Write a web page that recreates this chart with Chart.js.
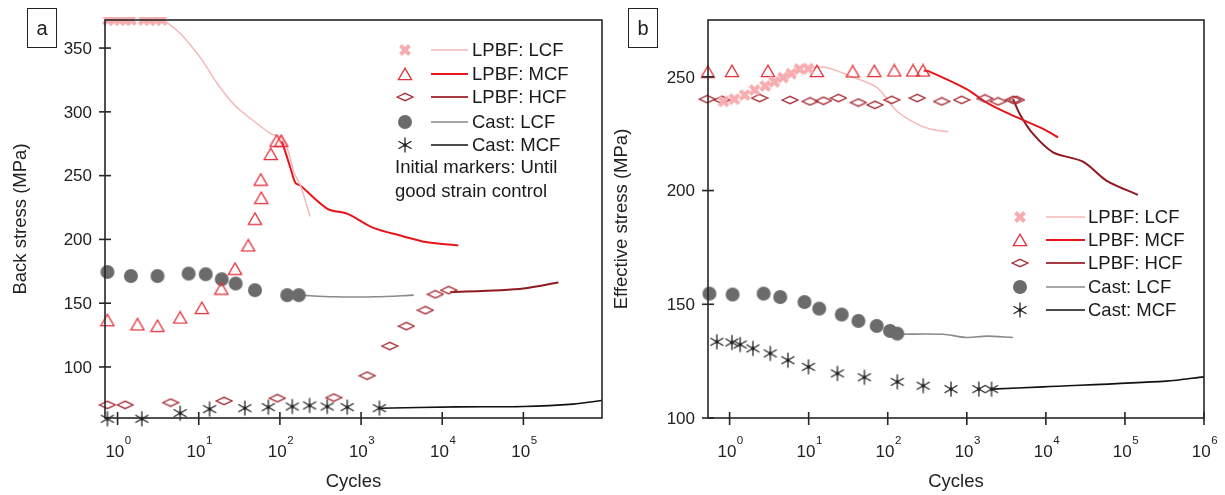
<!DOCTYPE html>
<html>
<head>
<meta charset="utf-8">
<script src="https://cdn.jsdelivr.net/npm/chart.js@4.4.1/dist/chart.umd.min.js"></script>
<style>
  html, body { margin: 0; padding: 0; background: #ffffff; }
  #wrap { position: relative; width: 1225px; height: 495px; overflow: hidden; }
  canvas { position: absolute; top: 0; }
  #c1 { left: 0; }
  #c2 { left: 612px; }
</style>
</head>
<body>
<div id="wrap">
  <canvas id="c1" width="612" height="495"></canvas>
  <canvas id="c2" width="613" height="495"></canvas>
</div>
<script>
// ---------------- DATA ----------------
// Panel a: back stress (MPa) vs cycles
const backLcfMarkN = [0.76, 0.9, 1.07, 1.26, 1.46, 2.1, 2.5, 2.96, 3.5];
const backLcfMarkS = [372, 372, 372, 372, 372, 372, 372, 372, 372];
const backLcfLineN = [3.9, 6, 10.6, 17, 27, 47, 77, 102, 125, 150, 180, 235];
const backLcfLineS = [371, 361, 342, 322, 306, 293, 283, 280, 270, 252, 242, 218];

const backMcfMarkN = [0.75, 1.76, 3.1, 5.9, 10.9, 19.0, 28, 40.8, 49.3, 59, 58, 77, 91, 104];
const backMcfMarkS = [136.7, 133.4, 132.3, 138.8, 146.3, 161.5, 177, 195.3, 216.2, 232.6, 246.9, 267, 277.3, 277.3];
const backMcfLineN = [106, 135, 155, 180, 386, 681, 1422, 3055, 6560, 15800];
const backMcfLineS = [277, 256, 244.5, 242, 224, 220, 209, 203, 197.7, 195.3];

const backHcfMarkN = [0.75, 1.24, 4.5, 20.5, 93, 461, 1189, 2256, 3616, 6190, 8225, 12000];
const backHcfMarkS = [70.3, 70.3, 72.1, 73.4, 75.5, 76, 93.2, 116.4, 132, 144.5, 157, 160.2];
const backHcfLineN = [12600, 51800, 100000, 270000];
const backHcfLineS = [158.8, 160.2, 161.5, 166.2];

const backCastLcfMarkN = [0.75, 1.46, 3.1, 7.5, 12.2, 19.2, 28.5, 49.3, 123, 171];
const backCastLcfMarkS = [174.5, 171.3, 171.3, 173.2, 172.7, 168.8, 165.4, 160.2, 156.3, 156.3];
const backCastLcfLineN = [175, 461, 1500, 4450];
const backCastLcfLineS = [156.3, 155, 155, 156.3];

const backCastMcfMarkN = [0.75, 1.99, 5.9, 13.6, 37, 72, 142, 232, 383, 675, 1683];
const backCastMcfMarkS = [59.4, 59.4, 63.8, 67, 67.7, 68.5, 69, 69.8, 69, 68.5, 67.7];
const backCastMcfLineN = [1683, 15350, 100000, 410000, 920000];
const backCastMcfLineS = [67.7, 68.7, 69, 70.9, 73.7];

// Panel b: effective stress (MPa) vs cycles
const effLcfMarkN = [0.84, 1.15, 1.55, 2.07, 2.82, 3.67, 4.72, 6.0, 7.66, 9.9];
const effLcfMarkS = [239.2, 240.2, 242, 244.2, 246, 247.8, 249.7, 251.4, 253.4, 253.6];
const effLcfLineN = [9.9, 11.5, 17, 33, 73, 130, 232, 342, 582];
const effLcfLineS = [253.6, 254.1, 254.1, 250.4, 245.3, 235, 229.3, 227.1, 225.9];

const effMcfMarkN = [0.53, 1.07, 3.05, 12.7, 36, 67.7, 121, 209, 279];
const effMcfMarkS = [252.3, 252.6, 252.6, 252.6, 252.4, 252.6, 252.8, 252.8, 252.8];
const effMcfLineN = [285, 326, 994, 1780, 3500, 9230, 14250];
const effMcfLineS = [252.8, 252.5, 244.6, 238.7, 233.6, 227.1, 223.4];

const effHcfMarkN = [0.52, 0.80, 2.39, 5.8, 10.4, 15.4, 23.8, 42.5, 69, 112, 236, 481, 860, 1692, 2490, 3850, 4250];
const effHcfMarkS = [240.2, 239.9, 240.7, 239.8, 239.2, 239.5, 240.7, 238.7, 237.7, 239.9, 240.7, 239.2, 239.9, 240.5, 239.2, 239.9, 239.9];
const effHcfLineN = [3850, 4690, 6890, 12330, 29500, 58200, 146000];
const effHcfLineS = [240.2, 233.6, 224.9, 216.8, 212.7, 204.4, 198.1];

const effCastLcfMarkN = [0.555, 1.09, 2.69, 4.37, 8.85, 13.6, 26.2, 42.6, 72.6, 107, 132];
const effCastLcfMarkS = [154.7, 154.3, 154.7, 153.2, 151, 148.1, 145.5, 142.7, 140.5, 138.3, 137.1];
const effCastLcfLineN = [132, 504, 994, 1780, 3850];
const effCastLcfLineS = [136.8, 136.8, 135.4, 136, 135.4];

const effCastMcfMarkN = [0.69, 1.07, 1.36, 1.97, 3.27, 5.46, 9.94, 23.1, 50.7, 132, 281, 630, 1420, 2056];
const effCastMcfMarkS = [133.5, 133.2, 132.3, 130.6, 128.4, 125.4, 122.5, 119.6, 117.9, 115.9, 114.2, 112.7, 112.7, 112.7];
const effCastMcfLineN = [2056, 9230, 333000, 1000000];
const effCastMcfLineS = [112.7, 113.7, 116.2, 118.1];

// Tick labels / texts
const backYTicks = [100, 150, 200, 250, 300, 350];
const effYTicks = [100, 150, 200, 250];
const backXExponents = [0, 1, 2, 3, 4, 5];
const effXExponents = [0, 1, 2, 3, 4, 5, 6];
const seriesLabels = ['LPBF: LCF', 'LPBF: MCF', 'LPBF: HCF', 'Cast: LCF', 'Cast: MCF'];
const noteLines = ['Initial markers: Until', 'good strain control'];

// ---------------- STYLES ----------------
const FONT = '"Liberation Sans", Arial, sans-serif';
const COL = {
  lcfMark: '#f7acb0', lcfLine: '#f4b8b8',
  mcfMark: '#e5323c', mcfLine: '#e8141c',
  hcfMark: '#a8323a', hcfLine: '#8e1a20', hcfLegLine: '#a83a44',
  castLcfMark: '#6b6b6b', castLcfLine: '#8a8a8a',
  castMcfMark: '#222222', castMcfLine: '#111111'
};

function mk(w, h, draw) {
  const c = document.createElement('canvas');
  c.width = w; c.height = h;
  const g = c.getContext('2d');
  draw(g, w, h);
  return c;
}
const MARK = {
  xsq: mk(14, 14, (g) => {
    g.strokeStyle = COL.lcfMark; g.lineWidth = 4; g.lineCap = 'butt';
    g.beginPath(); g.moveTo(2.5, 2.5); g.lineTo(11.5, 11.5); g.moveTo(11.5, 2.5); g.lineTo(2.5, 11.5); g.stroke();
    g.fillStyle = COL.lcfMark; g.fillRect(4.5, 4.5, 5, 5);
  }),
  tri: mk(16, 14, (g) => {
    g.strokeStyle = COL.mcfMark; g.lineWidth = 1.3;
    g.beginPath(); g.moveTo(8, 1.2); g.lineTo(14.6, 12.6); g.lineTo(1.4, 12.6); g.closePath(); g.stroke();
  }),
  dia: mk(18, 10, (g) => {
    g.strokeStyle = COL.hcfMark; g.lineWidth = 1.3;
    g.beginPath(); g.moveTo(1.2, 5); g.lineTo(9, 1.3); g.lineTo(16.8, 5); g.lineTo(9, 8.7); g.closePath(); g.stroke();
  }),
  dot: mk(16, 16, (g) => {
    g.fillStyle = COL.castLcfMark;
    g.beginPath(); g.arc(8, 8, 7, 0, Math.PI * 2); g.fill();
  }),
  ast: mk(18, 18, (g) => {
    g.strokeStyle = COL.castMcfMark; g.lineWidth = 1.3;
    g.beginPath();
    for (const deg of [90, 30, -30]) {
      const r = deg * Math.PI / 180, dx = Math.cos(r) * 7.5, dy = Math.sin(r) * 7.5;
      g.moveTo(9 - dx, 9 - dy); g.lineTo(9 + dx, 9 + dy);
    }
    g.stroke();
    g.fillStyle = COL.castMcfMark; g.beginPath(); g.arc(9, 9, 1.8, 0, Math.PI * 2); g.fill();
  })
};

const pts = (N, S) => N.map((n, i) => ({ x: n, y: S[i] }));
const markSet = (N, S, img, clip) => ({ data: pts(N, S), pointStyle: img, pointRadius: 8, showLine: false, clip: clip === undefined ? false : clip });
const lineSet = (N, S, color, w) => ({ data: pts(N, S), showLine: true, pointRadius: 0, borderColor: color, borderWidth: w, tension: 0.3, fill: false });

const legendStyles = [
  { img: MARK.xsq, color: COL.lcfLine, w: 1.5 },
  { img: MARK.tri, color: COL.mcfLine, w: 2 },
  { img: MARK.dia, color: COL.hcfLegLine, w: 2.2 },
  { img: MARK.dot, color: COL.castLcfLine, w: 1.6 },
  { img: MARK.ast, color: COL.castMcfLine, w: 1.6 }
];

// ---------------- FRAME / AXES / LEGEND PLUGIN ----------------
const framePlugin = {
  id: 'frame',
  afterDraw(chart, args, o) {
    const { ctx, chartArea: a, scales: { x, y } } = chart;
    ctx.save();
    ctx.fillStyle = '#222';
    ctx.strokeStyle = '#262626';
    // box
    ctx.lineWidth = 1.6;
    ctx.strokeRect(a.left, a.top, a.right - a.left, a.bottom - a.top);
    // y ticks
    ctx.lineWidth = 1.6;
    ctx.font = '17px ' + FONT;
    ctx.textAlign = 'right'; ctx.textBaseline = 'middle';
    for (const v of o.yTicks) {
      const py = y.getPixelForValue(v);
      ctx.beginPath(); ctx.moveTo(a.left - 6, py); ctx.lineTo(a.left + 6, py); ctx.stroke();
      ctx.fillText(String(v), a.left - 13, py + 1);
    }
    // x ticks with superscript exponents
    ctx.textAlign = 'left'; ctx.textBaseline = 'alphabetic';
    for (const e of o.xExp) {
      const px = x.getPixelForValue(Math.pow(10, e));
      ctx.beginPath(); ctx.moveTo(px, a.bottom - 6); ctx.lineTo(px, a.bottom + 7); ctx.stroke();
      ctx.font = '17px ' + FONT;
      const w1 = ctx.measureText('10').width;
      ctx.font = '11.5px ' + FONT;
      const w2 = ctx.measureText(String(e)).width;
      const sx = px - (w1 + w2) / 2 + 0.5;
      ctx.font = '17px ' + FONT;
      ctx.fillText('10', sx, a.bottom + 39);
      ctx.font = '11.5px ' + FONT;
      ctx.fillText(String(e), sx + w1 + 0.5, a.bottom + 26);
    }
    // axis titles
    ctx.font = '18.5px ' + FONT;
    ctx.textAlign = 'center'; ctx.textBaseline = 'middle';
    ctx.fillText('Cycles', (a.left + a.right) / 2, 482);
    ctx.save();
    ctx.translate(o.yTitleX, (a.top + a.bottom) / 2);
    ctx.rotate(-Math.PI / 2);
    ctx.fillText(o.yTitle, 0, 0);
    ctx.restore();
    // panel letter box
    ctx.lineWidth = 1;
    ctx.strokeStyle = '#222';
    ctx.strokeRect(o.boxX + 0.5, 8.5, 29, 39);
    ctx.font = '20px ' + FONT;
    ctx.fillText(o.letter, o.boxX + 15, 29);
    // legend
    const L = o.legend;
    ctx.font = '18.5px ' + FONT;
    ctx.textAlign = 'left'; ctx.textBaseline = 'middle';
    seriesLabels.forEach((lab, i) => {
      const st = legendStyles[i];
      const ry = L.rows[i];
      ctx.drawImage(st.img, L.mx - st.img.width / 2, ry - st.img.height / 2);
      ctx.strokeStyle = st.color; ctx.lineWidth = st.w;
      ctx.beginPath(); ctx.moveTo(L.l1, ry); ctx.lineTo(L.l2, ry); ctx.stroke();
      ctx.fillStyle = '#1a1a1a';
      ctx.fillText(lab, L.tx, ry + 1);
    });
    if (L.note) {
      L.note.forEach((t, i) => ctx.fillText(t, L.noteX, L.noteY[i]));
    }
    ctx.restore();
  }
};

function build(id, datasets, xmin, xmax, ymin, ymax, padding, frame) {
  return new Chart(document.getElementById(id), {
    type: 'scatter',
    data: { datasets },
    options: {
      responsive: false, animation: false, devicePixelRatio: 1, events: [],
      layout: { padding },
      plugins: { legend: { display: false }, tooltip: { enabled: false }, frame },
      scales: {
        x: { type: 'logarithmic', display: false, min: xmin, max: xmax },
        y: { type: 'linear', display: false, min: ymin, max: ymax }
      }
    },
    plugins: [framePlugin]
  });
}

// Panel a
build('c1', [
  markSet(backLcfMarkN, backLcfMarkS, MARK.xsq, undefined === 0 ? false : { top: 3, left: 10, right: 10, bottom: 10 }),
  markSet(backMcfMarkN, backMcfMarkS, MARK.tri),
  markSet(backHcfMarkN, backHcfMarkS, MARK.dia),
  markSet(backCastLcfMarkN, backCastLcfMarkS, MARK.dot),
  markSet(backCastMcfMarkN, backCastMcfMarkS, MARK.ast),
  lineSet(backLcfLineN, backLcfLineS, COL.lcfLine, 1.5),
  lineSet(backMcfLineN, backMcfLineS, COL.mcfLine, 2),
  lineSet(backHcfLineN, backHcfLineS, COL.hcfLine, 2),
  lineSet(backCastLcfLineN, backCastLcfLineS, COL.castLcfLine, 1.6),
  lineSet(backCastMcfLineN, backCastMcfLineS, COL.castMcfLine, 1.6)
], 0.718, 9.3e5, 60, 372, { left: 105, top: 20, right: 10, bottom: 77 }, {
  yTicks: backYTicks, xExp: backXExponents, yTitle: 'Back stress (MPa)', yTitleX: 21,
  letter: 'a', boxX: 27,
  legend: { rows: [50, 74, 97, 122, 145], mx: 405, l1: 431, l2: 468, tx: 472,
            note: noteLines, noteX: 395, noteY: [168, 192] }
});

// Panel b
build('c2', [
  markSet(effLcfMarkN, effLcfMarkS, MARK.xsq),
  markSet(effMcfMarkN, effMcfMarkS, MARK.tri),
  markSet(effHcfMarkN, effHcfMarkS, MARK.dia),
  markSet(effCastLcfMarkN, effCastLcfMarkS, MARK.dot),
  markSet(effCastMcfMarkN, effCastMcfMarkS, MARK.ast),
  lineSet(effLcfLineN, effLcfLineS, COL.lcfLine, 1.5),
  lineSet(effMcfLineN, effMcfLineS, COL.mcfLine, 2),
  lineSet(effHcfLineN, effHcfLineS, COL.hcfLine, 2),
  lineSet(effCastLcfLineN, effCastLcfLineS, COL.castLcfLine, 1.6),
  lineSet(effCastMcfLineN, effCastMcfLineS, COL.castMcfLine, 1.6)
], 0.533, 1e6, 100, 275, { left: 96, top: 20, right: 21, bottom: 77 }, {
  yTicks: effYTicks, xExp: effXExponents, yTitle: 'Effective stress (MPa)', yTitleX: 10,
  letter: 'b', boxX: 16,
  legend: { rows: [217, 240, 263, 287, 310], mx: 408, l1: 434, l2: 473, tx: 476 }
});
</script>
</body>
</html>
